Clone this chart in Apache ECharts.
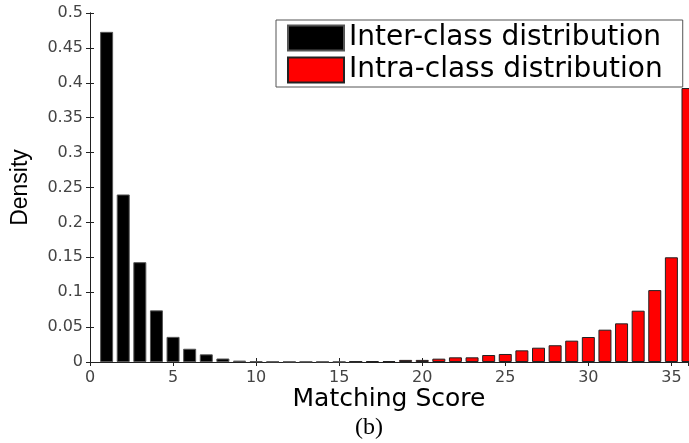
<!DOCTYPE html>
<html>
<head>
<meta charset="utf-8">
<script src="https://cdn.jsdelivr.net/npm/echarts@6/dist/echarts.min.js"></script>
<style>
  html, body { margin: 0; padding: 0; background: #fff; }
  #chart { width: 689px; height: 443px; }
</style>
</head>
<body>
<div id="chart"></div>
<script>
const scores = [1, 2, 3, 4, 5, 6, 7, 8, 9, 10, 11, 12, 13, 14, 15, 16, 17, 18,
  19, 20, 21, 22, 23, 24, 25, 26, 27, 28, 29, 30, 31, 32, 33, 34, 35, 36];

const interValues = [0.473, 0.240, 0.143, 0.074, 0.036, 0.019, 0.011, 0.005, 0.002,
  0.001, 0.0006, 0.0005, 0.0005, 0.0005, 0.0005, 0.0004, null, null,
  null, null, null, null, null, null, null, null, null, null, null, null,
  null, null, null, null, null, null];

const intraValues = [null, null, null, null, null, null, null, null, null,
  null, null, null, null, null, null, 0.0005, 0.0012, 0.0013,
  0.003, 0.003, 0.0048, 0.0067, 0.0067, 0.010, 0.0115, 0.0167, 0.0205, 0.024,
  0.0306, 0.0358, 0.0463, 0.0554, 0.0735, 0.103, 0.150, 0.3925];

const seriesNames = ["Inter-class distribution", "Intra-class distribution"];

const pairs = (vals) => scores.map((s, i) => [s, vals[i]]).filter((p) => p[1] != null);

const chart = echarts.init(document.getElementById("chart"), null, { renderer: "canvas" });

const tickFont = { fontFamily: "DejaVu Sans", fontSize: 16, color: "#444" };
const lineStyle = { color: "#222", width: 1 };

chart.setOption({
  animation: false,
  title: {
    text: "(b)",
    left: 355,
    top: 416,
    padding: 0,
    textStyle: { fontFamily: "Liberation Serif", fontSize: 24, fontWeight: "normal", color: "#000" },
  },
  legend: {
    data: seriesNames,
    orient: "vertical",
    left: 276,
    top: 20,
    padding: [4, 20, 3, 11],
    itemWidth: 56,
    itemHeight: 25,
    itemGap: 4,
    icon: "rect",
    borderColor: "#555",
    borderWidth: 1,
    backgroundColor: "#fff",
    textStyle: { fontFamily: "DejaVu Sans", fontSize: 28, color: "#000" },
  },
  grid: { left: 90, top: 13, width: 598, height: 349 },
  xAxis: [
    {
      type: "value",
      min: 0,
      max: 36,
      interval: 5,
      name: "Matching Score",
      nameLocation: "middle",
      nameGap: 25,
      nameMoveOverlap: false,
      nameTextStyle: { fontFamily: "DejaVu Sans", fontSize: 25, color: "#000" },
      axisLine: { show: true, lineStyle },
      axisTick: { show: true, inside: true, length: 4, lineStyle },
      axisLabel: { ...tickFont, margin: 8, showMaxLabel: false },
      splitLine: { show: false },
    },
    {
      type: "value",
      position: "top",
      min: 0,
      max: 36,
      interval: 5,
      axisLine: { show: true, lineStyle },
      axisTick: { show: true, inside: true, length: 4, lineStyle },
      axisLabel: { show: false },
      splitLine: { show: false },
    },
  ],
  yAxis: [
    {
      type: "value",
      min: 0,
      max: 0.5,
      interval: 0.05,
      name: "Density",
      nameLocation: "middle",
      nameRotate: 90,
      nameGap: 58,
      nameTextStyle: { fontFamily: "Liberation Sans", fontSize: 23, color: "#000" },
      axisLine: { show: true, lineStyle },
      axisTick: { show: true, inside: true, length: 4, lineStyle },
      axisLabel: { ...tickFont, margin: 7, formatter: (v) => String(+v.toFixed(2)) },
      splitLine: { show: false },
    },
    {
      type: "value",
      position: "right",
      min: 0,
      max: 0.5,
      interval: 0.05,
      axisLine: { show: true, lineStyle },
      axisTick: { show: true, inside: true, length: 4, lineStyle },
      axisLabel: { show: false },
      splitLine: { show: false },
    },
  ],
  series: [
    {
      name: seriesNames[0],
      type: "bar",
      data: pairs(interValues),
      barWidth: 13,
      barGap: "-100%",
      itemStyle: { color: "#000", borderColor: "#555", borderWidth: 1 },
    },
    {
      name: seriesNames[1],
      type: "bar",
      data: pairs(intraValues),
      barWidth: 13,
      barGap: "-100%",
      itemStyle: { color: "#ff0000", borderColor: "#222", borderWidth: 1 },
    },
  ],
});
</script>
</body>
</html>
